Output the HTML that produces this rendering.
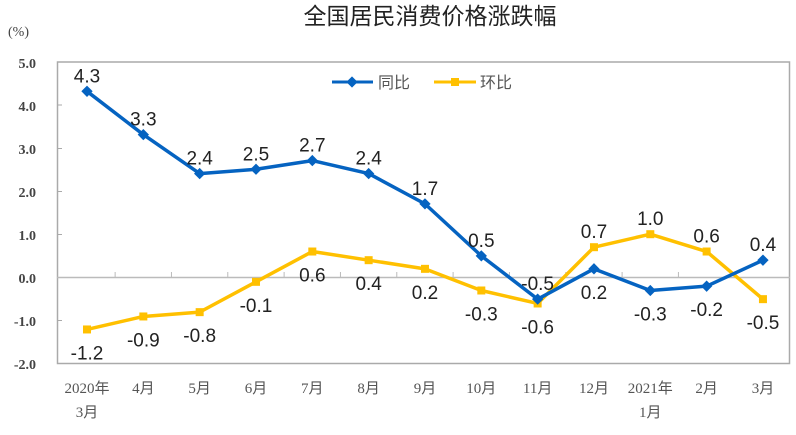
<!DOCTYPE html>
<html><head><meta charset="utf-8"><style>
html,body{margin:0;padding:0;background:#fff;}
svg{display:block;}
</style></head><body>
<svg width="796" height="435" xmlns="http://www.w3.org/2000/svg">
<text x="430" y="24" font-family="Liberation Sans, Noto Sans CJK SC, sans-serif" font-size="23" text-anchor="middle" fill="#222">全国居民消费价格涨跌幅</text>
<text x="8" y="36" font-family="Liberation Serif, Noto Sans CJK SC, serif" font-size="14" fill="#444">(%)</text>
<g font-family="Liberation Serif, serif" font-size="14" fill="#444" font-weight="bold" text-anchor="end">
<text x="36" y="68">5.0</text><text x="36" y="111">4.0</text><text x="36" y="154">3.0</text><text x="36" y="197">2.0</text><text x="36" y="240">1.0</text><text x="36" y="283">0.0</text><text x="36" y="326">-1.0</text><text x="36" y="369">-2.0</text>
</g>
<rect x="57.5" y="62" width="732" height="301.5" fill="none" stroke="#aaa" stroke-width="1.5"/>
<g stroke="#aaa" stroke-width="1">
<line x1="57" y1="105" x2="62" y2="105"/><line x1="57" y1="148.5" x2="62" y2="148.5"/><line x1="57" y1="191.5" x2="62" y2="191.5"/><line x1="57" y1="234.5" x2="62" y2="234.5"/><line x1="57" y1="320.5" x2="62" y2="320.5"/>
</g>
<line x1="57" y1="277.5" x2="790" y2="277.5" stroke="#bbb" stroke-width="1.5"/>
<g stroke="#bbb" stroke-width="1" id="ticks"></g>
<g font-family="Liberation Serif, Noto Sans CJK SC, serif" font-size="15" fill="#555" text-anchor="middle" id="xl"></g>
<polyline id="yel" fill="none" stroke="#ffc000" stroke-width="3.5" stroke-linejoin="round"/>
<polyline id="blu" fill="none" stroke="#0563c1" stroke-width="3.5" stroke-linejoin="round"/>
<g id="mk"></g>
<g id="lb" font-family="Liberation Sans, sans-serif" font-size="19" fill="#222" text-anchor="middle"></g>
<line x1="332" y1="82" x2="373" y2="82" stroke="#0563c1" stroke-width="3"/>
<rect x="348" y="78" width="8" height="8" fill="#0563c1" transform="rotate(45 352 82)"/>
<text x="378" y="88" font-family="Liberation Sans, Noto Sans CJK SC, sans-serif" font-size="16" fill="#555">同比</text>
<line x1="434" y1="82" x2="476" y2="82" stroke="#ffc000" stroke-width="3"/>
<rect x="451" y="78" width="8" height="8" fill="#ffc000"/>
<text x="480" y="88" font-family="Liberation Sans, Noto Sans CJK SC, sans-serif" font-size="16" fill="#555">环比</text>
<script>
var B=[4.3,3.3,2.4,2.5,2.7,2.4,1.7,0.5,-0.5,0.2,-0.3,-0.2,0.4];
var Y=[-1.2,-0.9,-0.8,-0.1,0.6,0.4,0.2,-0.3,-0.6,0.7,1.0,0.6,-0.5];
var bUp=[1,1,1,1,1,1,1,1,1,0,0,0,1];
var yUp=[0,0,0,0,0,0,0,0,0,1,1,1,0];
var X=["2020年","4月","5月","6月","7月","8月","9月","10月","11月","12月","2021年","2月","3月"];
function px(i){return 87+i*56.33;}
function py(v){return 277.5-43.3*v;}
var ns="http://www.w3.org/2000/svg";
function el(p,t,a,txt){var e=document.createElementNS(ns,t);for(var k in a)e.setAttribute(k,a[k]);if(txt)e.textContent=txt;document.getElementById(p).appendChild(e);}
var bp=[],yp=[];
for(var i=0;i<13;i++){
 var x=px(i);bp.push(x+","+py(B[i]));yp.push(x+","+py(Y[i]));
 el("xl","text",{x:x,y:393},X[i]);
 if(i==0)el("xl","text",{x:x,y:417},"3月");
 if(i==10)el("xl","text",{x:x,y:417},"1月");
 if(i>0)el("ticks","line",{x1:x-28.2,y1:272,x2:x-28.2,y2:277});
 el("mk","rect",{x:x-4,y:py(Y[i])-4,width:8,height:8,fill:"#ffc000"});
 el("mk","rect",{x:x-4,y:py(B[i])-4,width:8,height:8,fill:"#0563c1",transform:"rotate(45 "+x+" "+py(B[i])+")"});
 el("lb","text",{x:x,y:bUp[i]?py(B[i])-9:py(B[i])+30},B[i].toFixed(1));
 el("lb","text",{x:x,y:yUp[i]?py(Y[i])-9:py(Y[i])+30},Y[i].toFixed(1));
}
document.getElementById("blu").setAttribute("points",bp.join(" "));
document.getElementById("yel").setAttribute("points",yp.join(" "));
</script>
</svg>
</body></html>
